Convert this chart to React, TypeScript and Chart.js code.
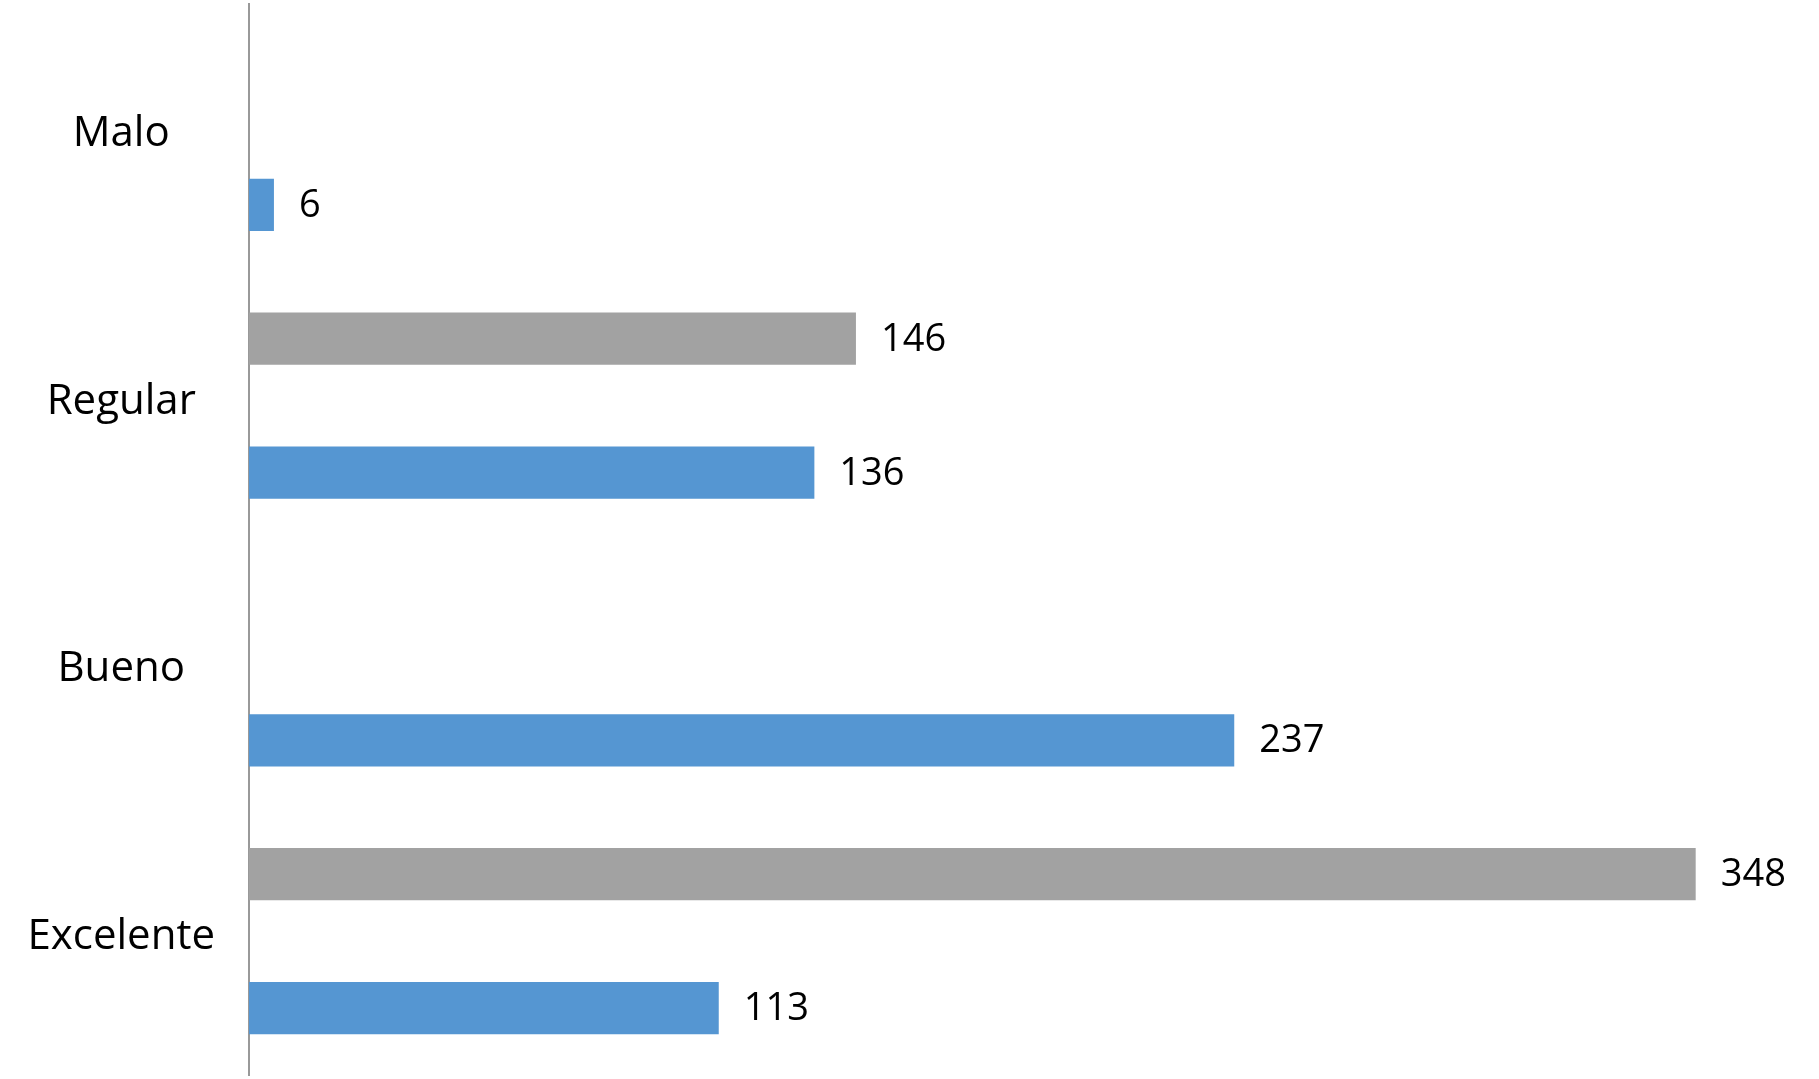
import React, { useEffect, useRef } from "react";
import { Chart, registerables } from "chart.js";

Chart.register(...registerables);

const categories = ["Malo", "Regular", "Bueno", "Excelente"];
const graySeries: (number | null)[] = [null, 146, null, 348];
const emptySeries: (number | null)[] = [null, null, null, null];
const blueSeries: (number | null)[] = [6, 136, 237, 113];
const xMax = 350;

const valueLabels = {
  id: "valueLabels",
  afterDatasetsDraw(chart: any) {
    const ctx = chart.ctx;
    ctx.save();
    ctx.font = '38px "Open Sans"';
    ctx.fillStyle = "#000";
    ctx.textAlign = "left";
    ctx.textBaseline = "alphabetic";
    chart.data.datasets.forEach((ds: any, di: number) => {
      const meta = chart.getDatasetMeta(di);
      meta.data.forEach((bar: any, i: number) => {
        const v = ds.data[i];
        if (v === null || v === undefined) return;
        ctx.fillText(String(v), bar.x + 25, bar.y + 12);
      });
    });
    ctx.restore();
  },
};

export default function App() {
  const ref = useRef<HTMLCanvasElement>(null);
  useEffect(() => {
    if (!ref.current) return;
    const chart = new Chart(ref.current, {
      type: "bar",
      data: {
        labels: categories,
        datasets: [
          { label: "A", data: graySeries, backgroundColor: "#a2a2a2" },
          { label: "B", data: emptySeries, backgroundColor: "#ffc000" },
          { label: "C", data: blueSeries, backgroundColor: "#5596d2" },
        ],
      },
      options: {
        indexAxis: "y",
        animation: false,
        responsive: true,
        maintainAspectRatio: false,
        datasets: { bar: { categoryPercentage: 0.75, barPercentage: 0.78 } },
        layout: { padding: { top: 4, bottom: 4, left: 0, right: 115 } },
        plugins: { legend: { display: false }, tooltip: { enabled: false } },
        scales: {
          x: { display: false, min: 0, max: xMax },
          y: {
            grid: { display: false, drawTicks: false },
            border: { display: true, color: "#999999", width: 2 },
            afterFit: (scale: any) => {
              scale.width = 249;
              scale.paddingTop = 0;
              scale.paddingBottom = 0;
            },
            ticks: {
              color: "#000",
              padding: 34,
              crossAlign: "center",
              font: { family: '"Open Sans"', size: 42, lineHeight: "8px" },
              callback: (_v: any, i: number) => [categories[i], ""],
            },
          },
        },
      },
      plugins: [valueLabels],
    });
    return () => chart.destroy();
  }, []);
  return (
    <div style={{ position: "fixed", left: 0, top: 0, width: 1819, height: 1079, background: "#fff" }}>
      <canvas ref={ref} />
    </div>
  );
}
